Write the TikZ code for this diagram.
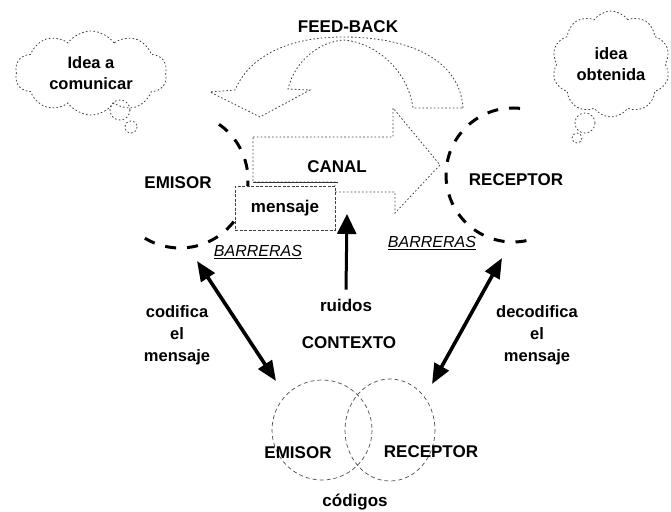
\documentclass[tikz,border=0pt]{standalone}
\usepackage{fontspec}
\setmainfont{Liberation Sans}
\usetikzlibrary{arrows.meta,shapes.symbols}
\begin{document}
\begin{tikzpicture}[x=1pt,y=-1pt,
  lbl/.style={font=\fontsize{17}{20}\selectfont\bfseries, inner sep=0pt, align=center},
  bar/.style={font=\fontsize{16}{18}\selectfont\itshape, inner sep=0pt},
  thindot/.style={draw=black!75, line width=0.8pt, dash pattern=on 1.6pt off 2.2pt},
  bigdash/.style={line width=3pt, dash pattern=on 11pt off 11pt},
  thindash/.style={draw=black!70, line width=0.7pt, dash pattern=on 4pt off 3pt},
  dbl/.style={line width=3.6pt, {Triangle[length=20pt,width=16pt]}-{Triangle[length=20pt,width=16pt]}},
  cloudbox/.style={cloud, cloud puffs=10, cloud puff arc=110, cloud ignores aspect, thindot, inner sep=0pt, align=center,
                   font=\fontsize{16.5}{21}\selectfont\bfseries}
]
\useasboundingbox (0,0) rectangle (671,511);

% clouds
\node[cloudbox, minimum width=152pt, minimum height=84pt] (cl) at (91,73) {Idea a\\comunicar};
\draw[thindot] (120,110) circle (10);
\draw[thindot] (131,127) circle (6);
\node[cloudbox, minimum width=118pt, minimum height=106pt] (cr) at (611,64) {idea\\obtenida};
\draw[thindot] (585,123) circle (10);
\draw[thindot] (577,138) circle (5);

% feed-back arrow
\draw[thindot] (463,108) .. controls (460,60) and (410,37) .. (343,37)
   .. controls (290,37) and (250,55) .. (235,90)
   -- (210,92) -- (260,117) -- (310,90) -- (288,89)
   .. controls (295,60) and (320,42) .. (343,40)
   .. controls (375,42) and (408,70) .. (413,108) -- cycle;
\node[lbl] (fb) at (348,27) {FEED-BACK};

% big dashed circles
\draw[bigdash] (180,180) ++(-55:68) arc[start angle=-55, end angle=130, radius=68];
\draw[bigdash] (513,175) ++(-84:67) arc[start angle=-84, end angle=-284, radius=67];

% canal arrow
\draw[thindot, fill=white] (253,137) -- (393,137) -- (393,108) -- (440,165) -- (395,213)
   -- (395,192) -- (335,192) -- (335,182) -- (253,182) -- cycle;
\draw[black!80, line width=0.9pt] (253,182) -- (338,182);
\node[lbl] (canal) at (337,167) {CANAL};
\node[draw=black!75, line width=0.8pt, dash pattern=on 3pt off 1.5pt, fill=white,
      minimum width=100pt, minimum height=44pt, font=\fontsize{17}{20}\selectfont\bfseries]
      (msg) at (285,208) {mensaje};

\node[lbl] (em1) at (178,183) {EMISOR};
\node[lbl] (re1) at (516,180) {RECEPTOR};
\node[bar] (b1) at (258,252) {\underline{BARRERAS}};
\node[bar] (b2) at (432,243) {\underline{BARRERAS}};

% ruidos
\node[lbl] (ruidos) at (346,305) {ruidos};
\coordinate (rtip) at (347,214);
\draw[line width=3pt, -{Triangle[length=20pt,width=19pt]}] ([yshift=9pt]ruidos.north) -- (rtip);

\node[lbl] (ctx) at (349,343) {CONTEXTO};
\node[lbl, font=\fontsize{16.5}{22}\selectfont\bfseries] (cod) at (177,335) {codifica\\el\\mensaje};
\node[lbl, font=\fontsize{16.5}{22}\selectfont\bfseries] (dec) at (537,335) {decodifica\\el\\mensaje};

% double arrows
\coordinate (la1) at (197,261);
\coordinate (la2) at (276,381);
\coordinate (ra1) at (502,258);
\coordinate (ra2) at (432,384);
\draw[dbl] (la1) -- (la2);
\draw[dbl] (ra1) -- (ra2);

% bottom circles
\draw[thindash] (322,430) circle (50);
\draw[thindash] (390,430) ellipse [x radius=45, y radius=51];
\node[lbl] (em2) at (298,453) {EMISOR};
\node[lbl] (re2) at (431,452) {RECEPTOR};
\node[lbl] (cod2) at (355,502) {códigos};
\end{tikzpicture}
\end{document}
